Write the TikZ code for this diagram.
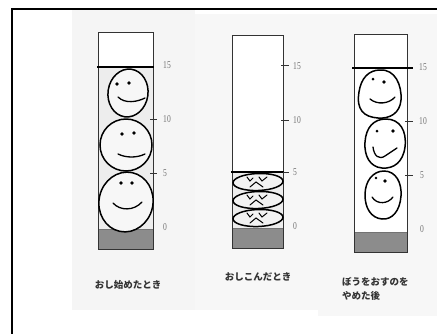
\documentclass[tikz,border=0pt]{standalone}
\usepackage{fontspec}
\newfontfamily\jp{Noto Sans CJK JP}
\newfontfamily\numfont[FakeStretch=0.72]{Liberation Serif}
\begin{document}
\begin{tikzpicture}[x=1pt,y=-1pt,
  panelbg/.style={fill=black!4,draw=none},
  tube/.style={draw=black!80,line width=0.8pt},
  base/.style={fill=black!45,draw=black!55,line width=0.6pt},
  lid/.style={draw=black,line width=1.4pt},
  face/.style={draw=black,line width=1.5pt},
  feature/.style={draw=black,line width=1.3pt,line cap=round},
  eye/.style={fill=black},
  tick/.style={draw=black!80,line width=0.7pt},
  num/.style={font=\numfont\fontsize{10.5}{11}\selectfont,text=black!55,inner sep=0pt},
  caption/.style={font=\jp\bfseries\fontsize{9.5}{14}\selectfont,text=black!80,inner sep=0pt,align=left}]
\useasboundingbox (0,0) rectangle (437,333);
\fill[white] (0,0) rectangle (437,333);
% outer frame
\draw[line width=1.6pt] (12,9) rectangle (445,340);
% scanned panels
\fill[panelbg] (72,10) rectangle (195,310);
\fill[panelbg,fill=black!3] (195,14) rectangle (318,310);
\fill[panelbg,fill=black!3] (318,14) rectangle (437,316);

% ---------- panel 1: start of pushing ----------
\fill[white] (98,32) rectangle (153,67);
\fill[black!7] (98,67) rectangle (153,229);
\draw[base] (98,229) rectangle (153,249);
\draw[tube] (98,32) rectangle (153,249);
\draw[lid] (97,67) -- (154,67);
\draw[tick] (150,119) -- (157,119);
\draw[tick] (150,173) -- (157,173);
\node[num] (a15) at (167,65) {15};
\node[num] (a10) at (167,119) {10};
\node[num] (a5)  at (165,173) {5};
\node[num] (a0)  at (165,227) {0};
% faces
\draw[face,fill=black!3] (128,93) ellipse [x radius=20,y radius=24,rotate=-8];
\fill[eye] (117,84) circle (1.8) (129,83) circle (1.8);
\draw[feature] (118,97) .. controls (125,104) and (137,102) .. (145,98);
\draw[face,fill=black!3] (126,145) ellipse [x radius=26,y radius=26];
\fill[eye] (122,134) circle (1.8) (134,133) circle (1.8);
\draw[feature] (118,154) .. controls (126,158) and (137,158) .. (145,154);
\draw[face,fill=black!3] (126,202) ellipse [x radius=27,y radius=30,rotate=-12];
\fill[eye] (121,183) circle (1.8) (132,183) circle (1.8);
\draw[feature] (113,203) .. controls (120,211) and (134,211) .. (142,202);
\node[caption] (c1) at (128,285) {おし始めたとき};

% ---------- panel 2: pushed in ----------
\fill[white] (232,35) rectangle (283,172);
\fill[black!7] (232,172) rectangle (283,228);
\draw[base] (232,228) rectangle (283,248);
\draw[tube] (232,35) rectangle (283,248);
\draw[lid] (231,172) -- (284,172);
\draw[tick] (281,65) -- (289,65);
\draw[tick] (281,120) -- (289,120);
\draw[tick] (283,172) -- (289,172);
\node[num] (b15) at (297,66) {15};
\node[num] (b10) at (297,120) {10};
\node[num] (b5)  at (295,172) {5};
\node[num] (b0)  at (295,226) {0};
% squashed faces
\foreach \cy in {182,200,218}{
  \draw[face,fill=black!5] (258,\cy) ellipse [x radius=25,y radius=8.5,rotate=2];
  \draw[feature,line width=1pt] (247,\cy-5) -- (250,\cy-1) -- (253,\cy-4)
        (259,\cy-5) -- (262,\cy-1) -- (267,\cy-5);
  \draw[feature,line width=1pt] (250,\cy+5) -- (256,\cy) -- (263,\cy+5);
}
\node[caption] (c2) at (258,277) {おしこんだとき};

% ---------- panel 3: after releasing the rod ----------
\fill[white] (354,34) rectangle (407,232);
\draw[base] (354,232) rectangle (407,252);
\draw[tube] (354,34) rectangle (407,252);
\draw[lid] (352,68) -- (413,68);
\draw[tick] (405,121) -- (413,121);
\draw[tick] (405,175) -- (413,175);
\node[num] (d15) at (423,67) {15};
\node[num] (d10) at (423,121) {10};
\node[num] (d5)  at (422,175) {5};
\node[num] (d0)  at (422,229) {0};
% faces
\draw[face] (380,70) .. controls (395,69) and (402,85) .. (401,100)
            .. controls (400,113) and (390,119) .. (378,118)
            .. controls (364,117) and (356,110) .. (359,92)
            .. controls (361,78) and (369,70) .. (380,70) -- cycle;
\fill[eye] (373,79) circle (1.5) (384,82) circle (1.8);
\draw[feature] (370,99) .. controls (377,105) and (389,104) .. (395,97);
\draw[face] (386,119) .. controls (400,119) and (407,131) .. (405,147)
            .. controls (403,162) and (394,169) .. (382,168)
            .. controls (370,167) and (364,156) .. (365,142)
            .. controls (366,127) and (374,119) .. (386,119) -- cycle;
\fill[eye] (377,131) circle (1.5) (393,131) circle (1.8);
\draw[feature] (373,147) .. controls (374,156) and (379,160) .. (385,156) -- (397,148);
\draw[face] (384,171) .. controls (396,171) and (402,183) .. (401,196)
            .. controls (400,211) and (392,220) .. (382,219)
            .. controls (371,218) and (365,208) .. (365,195)
            .. controls (365,181) and (373,171) .. (384,171) -- cycle;
\fill[eye] (376,178) circle (1.3) (385,181) circle (1.8);
\draw[feature] (372,197) .. controls (377,205) and (388,204) .. (393,197);
\node[caption,anchor=north west] (c3) at (342,277) {ぼうをおすのを\\やめた後};
\end{tikzpicture}
\end{document}
